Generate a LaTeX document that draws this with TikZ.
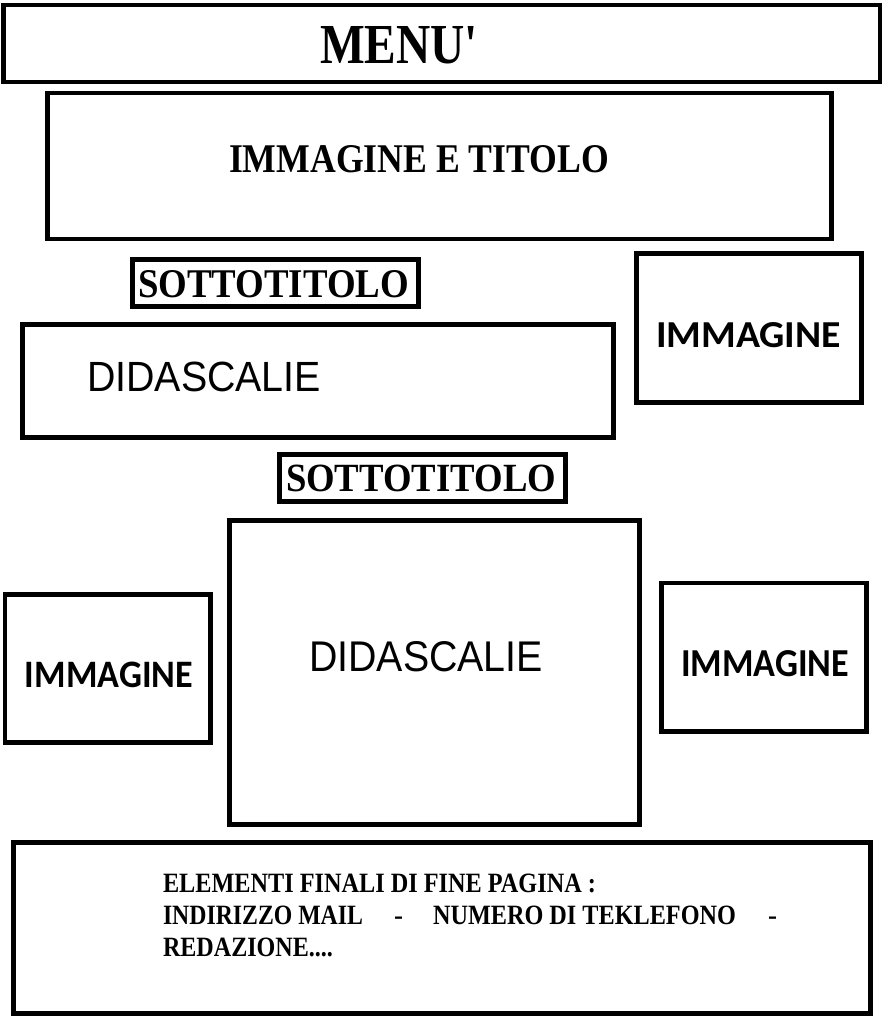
\documentclass[tikz,border=0pt]{standalone}
\usepackage{fontspec}
\usepackage{graphicx}
\setmainfont{Liberation Serif}
\newfontfamily\calibfont{Carlito}
\newfontfamily\arialfont{Liberation Sans}
\begin{document}
\begin{tikzpicture}[x=1pt,y=-1pt,
  box/.style={draw=black, line width=4.7pt, inner sep=0pt, outer sep=0pt},
  lbl/.style={inner sep=0pt, outer sep=0pt, anchor=base west, font=\bfseries},
  caplbl/.style={inner sep=0pt, outer sep=0pt, anchor=base west, font=\calibfont\bfseries},
  sanslbl/.style={inner sep=0pt, outer sep=0pt, anchor=base west, font=\arialfont},
  footlbl/.style={inner sep=0pt, outer sep=0pt, anchor=base west, font=\fontsize{27}{32}\selectfont\bfseries}]
\useasboundingbox[fill=white] (0,0) rectangle (887,1028);

% boxes
\node[box, minimum width=876.5pt, minimum height=77pt]  (menu)   at (441.75,43.5) {};
\node[box, minimum width=784pt,   minimum height=146pt] (title)  at (439.5,166) {};
\node[box, minimum width=286pt,   minimum height=47pt]  (sub1)   at (275.5,283) {};
\node[box, minimum width=225pt,   minimum height=148.7pt] (img1) at (748.8,327.85) {};
\node[box, minimum width=590.7pt, minimum height=113pt] (did1)   at (317.85,381) {};
\node[box, minimum width=286.3pt, minimum height=47pt]  (sub2)   at (422.35,478) {};
\node[box, minimum width=410.3pt, minimum height=303.7pt] (did2) at (434.35,672.35) {};
\node[box, minimum width=205.3pt, minimum height=148pt] (img2)   at (107.65,668.3) {};
\node[box, minimum width=205.4pt, minimum height=148.3pt] (img3) at (764,657.15) {};
\node[box, minimum width=857pt,   minimum height=171pt] (foot)   at (442,928) {};

% labels
\node[lbl] (tmenu) at (320,63.5) {\resizebox{158pt}{37pt}{MENU\textquotesingle}};
\node[lbl] (ttitle) at (229,172) {\resizebox{380pt}{27pt}{IMMAGINE E TITOLO}};
\node[lbl] (tsub1) at (138,297) {\resizebox{271pt}{27pt}{SOTTOTITOLO}};
\node[lbl] (tsub2) at (286,491) {\resizebox{270pt}{26.5pt}{SOTTOTITOLO}};
\node[caplbl] (timg1) at (656,347) {\resizebox{185pt}{25pt}{IMMAGINE}};
\node[sanslbl] (tdid1) at (87,391) {\resizebox{234pt}{29.5pt}{DIDASCALIE}};
\node[caplbl] (timg2) at (25,687) {\resizebox{168pt}{25.5pt}{IMMAGINE}};
\node[sanslbl] (tdid2) at (309,671) {\resizebox{234pt}{30pt}{DIDASCALIE}};
\node[caplbl] (timg3) at (681,676) {\resizebox{168pt}{26pt}{IMMAGINE}};

% footer text
\node[footlbl] (f1) at (163,892) {\resizebox{433pt}{18.5pt}{ELEMENTI FINALI DI FINE PAGINA :}};
\node[footlbl] (f2) at (163,924) {\makebox[0pt][l]{\resizebox{200pt}{18.5pt}{INDIRIZZO MAIL}}\hspace*{231pt}\makebox[0pt][l]{-}\hspace*{39pt}\makebox[0pt][l]{\resizebox{303pt}{18.5pt}{NUMERO DI TEKLEFONO}}\hspace*{335pt}-};
\node[footlbl] (f3) at (163,956) {\resizebox{170pt}{18.5pt}{REDAZIONE....}};
\end{tikzpicture}
\end{document}
